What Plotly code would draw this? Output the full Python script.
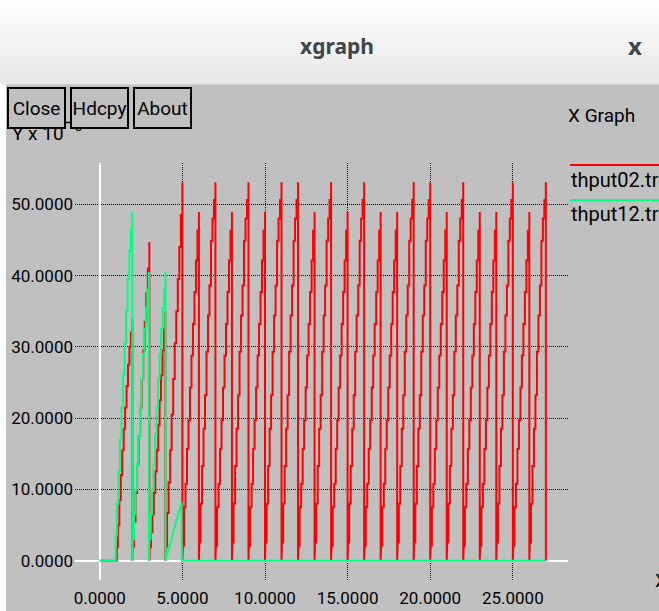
import plotly.graph_objects as go

W, H = 659, 611

# ---------------- data ----------------
x_tick_values = [0, 5, 10, 15, 20, 25]
y_tick_values = [0, 10, 20, 30, 40, 50]

# where the throughput steps happen inside one saw-tooth cycle (fraction of cycle)
step_fraction = [0.00, 0.03, 0.10, 0.19, 0.28, 0.37, 0.46, 0.55, 0.64, 0.73, 0.82, 0.91, 1.00]

# ---- thput02.tr (red) ----
red_lead_x = [0.0]
red_lead_y = [0.0]
red_cycle_start = [1.00, 1.97, 3.00, 3.97, 5, 6, 7, 8, 9, 10, 11, 12, 13, 14, 15, 16,
                   17, 18, 19, 20, 21, 22, 23, 24, 25, 26]
red_cycle_end = [1.97, 3.00, 3.97, 5.00, 6, 7, 8, 9, 10, 11, 12, 13, 14, 15, 16, 17,
                 18, 19, 20, 21, 22, 23, 24, 25, 26, 27]
red_early_steps = [
    [0, 1.9, 5.0, 8.5, 12.0, 15.5, 18.5, 21.5, 24.5, 27.5, 30.0, 32.0, 34.0],
    [0, 2.0, 5.5, 9.5, 13.5, 17.5, 21.5, 25.5, 29.5, 33.5, 37.5, 41.0, 44.7],
    [0, 1.9, 4.0, 6.5, 9.5, 12.5, 15.5, 19.0, 22.5, 26.0, 29.5, 32.5, 35.0],
    [0, 2.0, 6.7, 11.0, 15.5, 20.5, 25.5, 30.5, 35.0, 39.5, 44.0, 48.5, 53.1],
]
red_short_steps = [0, 2.1, 7.5, 10.8, 15.7, 19.7, 24.3, 28.8, 33.2, 37.7, 42.1, 46.3, 48.9]
red_tall_steps = [0, 2.6, 8.0, 13.3, 18.5, 23.2, 29.3, 34.4, 38.6, 44.9, 48.0, 50.6, 53.1]
# peak type of the cycles ending at t = 6 ... 27
red_peak_kind = ["S", "T", "S", "T", "S", "T", "T", "S", "T", "S", "T",
                 "S", "S", "T", "T", "S", "T", "S", "S", "T", "S", "T"]
red_tail_x = [27.0]
red_tail_y = [0.0]

# ---- thput12.tr (green) ----
green_lead_x = [0.0]
green_lead_y = [0.0]
green_cycle_start = [0.93, 1.97, 2.97]
green_cycle_end = [1.97, 2.97, 3.98]
green_cycle_steps = [
    [0, 3.5, 8.0, 12.5, 17.0, 21.5, 26.0, 30.5, 35.0, 39.5, 43.5, 46.5, 48.9],
    [0, 3.0, 6.5, 10.0, 13.5, 17.5, 21.5, 25.5, 29.0, 32.5, 35.5, 38.0, 40.5],
    [0, 3.0, 6.5, 10.0, 13.5, 17.5, 21.5, 25.5, 29.0, 32.5, 35.5, 38.0, 40.5],
]
green_tail_x = [3.98, 4.95, 4.97, 27.0]
green_tail_y = [0.0, 8.2, 0.0, 0.0]

legend_names = ["thput02.tr", "thput12.tr"]
series_colors = ["#ff0000", "#00ff7f"]


# ---------------- build the staircase lines ----------------
def staircase(starts, ends, steps_list):
    xs, ys = [], []
    for s, e, steps in zip(starts, ends, steps_list):
        ts = [s + f * (e - s) for f in step_fraction]
        xs.append(ts[0]); ys.append(steps[0])
        for i in range(1, len(ts)):
            xs.append(ts[i]); ys.append(steps[i - 1])
            xs.append(ts[i]); ys.append(steps[i])
    return xs, ys


red_steps = list(red_early_steps) + [red_tall_steps if k == "T" else red_short_steps
                                     for k in red_peak_kind]
rx, ry = staircase(red_cycle_start, red_cycle_end, red_steps)
red_x = red_lead_x + rx + red_tail_x
red_y = red_lead_y + ry + red_tail_y

gx, gy = staircase(green_cycle_start, green_cycle_end, green_cycle_steps)
green_x = green_lead_x + gx + green_tail_x
green_y = green_lead_y + gy + green_tail_y

# ---------------- figure ----------------
GRAY = "#c0c0c0"
FONT = "Roboto, Liberation Sans, sans-serif"


def px(x):
    return x / W


def py(y):
    return 1 - y / H


fig = go.Figure()
fig.add_trace(go.Scatter(x=red_x, y=red_y, mode="lines", name=legend_names[0],
                         line=dict(color=series_colors[0], width=2),
                         hoverinfo="skip", showlegend=False))
fig.add_trace(go.Scatter(x=green_x, y=green_y, mode="lines", name=legend_names[1],
                         line=dict(color=series_colors[1], width=2),
                         hoverinfo="skip", showlegend=False))

shapes = []
# title bar gradient
bar_colors = ["#fefefe", "#fcfcfc", "#fafafa", "#f8f8f8", "#f6f6f6", "#f4f4f4",
              "#f2f2f2", "#f0f0f0", "#eeeeee", "#ececec", "#eaeaea", "#e8e8e8"]
n = len(bar_colors)
for i, c in enumerate(bar_colors):
    y0 = 84 * i / n
    y1 = 84 * (i + 1) / n + 0.5
    shapes.append(dict(type="rect", xref="paper", yref="paper", x0=0, x1=1,
                       y0=py(y1), y1=py(y0), fillcolor=c, line=dict(width=0), layer="below"))
# left white strip
shapes.append(dict(type="rect", xref="paper", yref="paper", x0=0, x1=px(6),
                   y0=0, y1=py(84), fillcolor="#ffffff", line=dict(width=0), layer="below"))
# legend lines
shapes.append(dict(type="line", xref="paper", yref="paper", x0=px(570), x1=px(662),
                   y0=py(165), y1=py(165), line=dict(color=series_colors[0], width=2)))
shapes.append(dict(type="line", xref="paper", yref="paper", x0=px(570), x1=px(662),
                   y0=py(200), y1=py(200), line=dict(color=series_colors[1], width=2)))
# small stroke of the hidden exponent between the first two buttons
shapes.append(dict(type="line", xref="paper", yref="paper", x0=px(65), x1=px(71),
                   y0=py(122.5), y1=py(122.5), line=dict(color="black", width=1.5)))

ann = []
# title bar text
ann.append(dict(text="<b>xgraph</b>", x=px(337), y=py(46), xref="paper", yref="paper",
                showarrow=False, xanchor="center", yanchor="middle",
                font=dict(family="Noto Sans", size=21, color="#3d464a")))
ann.append(dict(text="<b>x</b>", x=px(635), y=py(45), xref="paper", yref="paper",
                showarrow=False, xanchor="center", yanchor="middle",
                font=dict(family="Noto Sans", size=24, color="#3d464a")))
# Y axis unit label (partly hidden by the buttons)
ann.append(dict(text="Y x 10", x=px(10), y=py(134), xref="paper", yref="paper",
                showarrow=False, xanchor="left", yanchor="middle",
                font=dict(family=FONT, size=19, color="black")))
ann.append(dict(text="6", x=px(72), y=py(126), xref="paper", yref="paper",
                showarrow=False, xanchor="left", yanchor="middle",
                font=dict(family=FONT, size=15, color="black")))
# buttons
for label, cx in [("Close", 36.7), ("Hdcpy", 99.3), ("About", 162.2)]:
    ann.append(dict(text=label, x=px(cx), y=py(107.7), xref="paper", yref="paper",
                    showarrow=False, xanchor="center", yanchor="middle",
                    width=55, height=38, borderpad=0, borderwidth=2,
                    bordercolor="black", bgcolor=GRAY,
                    font=dict(family=FONT, size=19, color="black")))
# graph title and legend texts
ann.append(dict(text="X Graph", x=px(566), y=py(116), xref="paper", yref="paper",
                showarrow=False, xanchor="left", yanchor="middle",
                font=dict(family=FONT, size=19, color="black")))
for name, yy in zip(legend_names, [180, 214]):
    ann.append(dict(text=name, x=px(569), y=py(yy), xref="paper", yref="paper",
                    showarrow=False, xanchor="left", yanchor="middle",
                    font=dict(family=FONT, size=20, color="black")))
# X axis unit label (cut by the window edge)
ann.append(dict(text="X", x=px(653), y=py(580), xref="paper", yref="paper",
                showarrow=False, xanchor="left", yanchor="middle",
                font=dict(family=FONT, size=19, color="black")))

axis_common = dict(showgrid=True, gridcolor="black", griddash="1px,1px", gridwidth=1,
                   zeroline=True, zerolinecolor="white", zerolinewidth=2,
                   showline=False, ticks="", tickformat=".4f",
                   tickfont=dict(family=FONT, size=17, color="black"),
                   fixedrange=True, automargin=False)

fig.update_layout(
    width=W, height=H, autosize=False,
    margin=dict(l=0, r=0, t=0, b=0, pad=0),
    paper_bgcolor=GRAY, plot_bgcolor="rgba(0,0,0,0)",
    xaxis=dict(domain=[px(75), px(568)], range=[-1.50, 28.34],
               tickmode="array", tickvals=x_tick_values, ticklabelstandoff=6,
               **axis_common),
    yaxis=dict(domain=[py(580), py(163)], range=[-2.71, 55.79],
               tickmode="array", tickvals=y_tick_values, ticklabelstandoff=1,
               **axis_common),
    shapes=shapes, annotations=ann, showlegend=False,
)

fig.write_html(
    "out.html",
    config={"displayModeBar": False},
    post_script="document.body.style.margin='0';document.body.style.padding='0';"
                "document.body.style.overflow='hidden';",
)
